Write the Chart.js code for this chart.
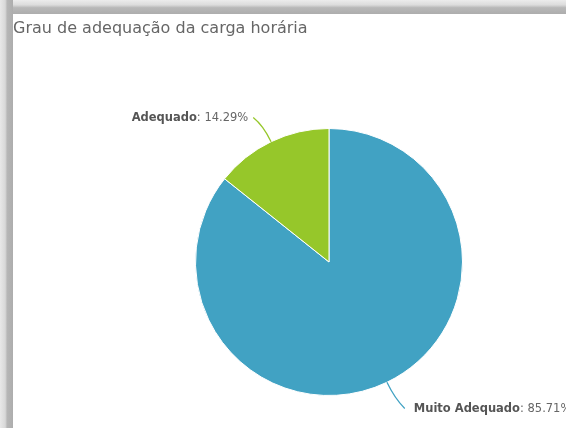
<!DOCTYPE html>
<html>
<head>
<meta charset="utf-8">
<script src="https://cdn.jsdelivr.net/npm/chart.js@4/dist/chart.umd.min.js"></script>
<style>
  body { margin: 0; background: #fff; }
  #wrap { position: relative; width: 566px; height: 428px; overflow: hidden; }
  #chart { position: absolute; left: 0; top: 0; }
  .bar-top { position: absolute; left: 0; top: 0; width: 566px; height: 14px;
    background: linear-gradient(to bottom, #ececec 0%, #dcdcdc 35%, #b8b8b8 55%, #adadad 100%); }
  .bar-left { position: absolute; left: 0; top: 0; width: 13px; height: 428px;
    background: linear-gradient(to right, #e8e8e8 0%, #d8d8d8 40%, #b6b6b6 55%, #adadad 100%); }
  #title { position: absolute; left: 13px; top: 18px; font-family: "DejaVu Sans", Verdana, sans-serif;
    font-size: 16px; color: #666; white-space: nowrap; }
</style>
</head>
<body>
<div id="wrap">
  <canvas id="chart" width="566" height="428"></canvas>
  <div class="bar-top"></div>
  <div class="bar-left"></div>
  <div id="title">Grau de adequação da carga horária</div>
</div>
<script>
const categories = ['Muito Adequado', 'Adequado'];
const percentages = [85.71, 14.29];
const sliceColors = ['#41a2c3', '#96c72a'];

// labels with connector lines, Highcharts style
const pieLabels = {
    id: 'pieLabels',
    afterDatasetsDraw(chart) {
        const ctx = chart.ctx;
        const meta = chart.getDatasetMeta(0);
        meta.data.forEach((arc, i) => {
            const mid = (arc.startAngle + arc.endAngle) / 2;
            const cos = Math.cos(mid), sin = Math.sin(mid);
            const r = arc.outerRadius;
            const ex = arc.x + cos * r, ey = arc.y + sin * r;
            const px = arc.x + cos * (r + 18), py = arc.y + sin * (r + 18);
            const right = cos >= 0;
            const ax = px + (right ? 10 : -10);
            const ay = py + (sin >= 0 ? 10 : -8);

            ctx.save();
            ctx.strokeStyle = sliceColors[i];
            ctx.lineWidth = 1.3;
            ctx.beginPath();
            ctx.moveTo(ex, ey);
            ctx.quadraticCurveTo(px, py, ax, ay);
            ctx.stroke();

            const name = categories[i];
            const rest = ': ' + percentages[i].toFixed(2) + '%';
            const bold = 'bold 11.5px "DejaVu Sans", Verdana, sans-serif';
            const normal = '11.5px "DejaVu Sans", Verdana, sans-serif';
            ctx.textBaseline = 'middle';
            ctx.font = bold;
            const wName = ctx.measureText(name).width;
            ctx.font = normal;
            const wRest = ctx.measureText(rest).width;
            const ty = ay + 1;
            const tx = right ? ax + 9 : ax - 5 - wName - wRest;
            ctx.font = bold;
            ctx.fillStyle = '#555';
            ctx.fillText(name, tx, ty);
            ctx.font = normal;
            ctx.fillStyle = '#666';
            ctx.fillText(rest, tx + wName, ty);
            ctx.restore();
        });
    }
};

new Chart(document.getElementById('chart'), {
    type: 'pie',
    data: {
        labels: categories,
        datasets: [{
            data: percentages,
            backgroundColor: sliceColors,
            borderColor: '#ffffff',
            borderWidth: 1
        }]
    },
    options: {
        responsive: false,
        animation: false,
        layout: { padding: { left: 195, right: 103, top: 128, bottom: 32 } },
        plugins: {
            legend: { display: false },
            tooltip: { enabled: false }
        }
    },
    plugins: [pieLabels]
});
</script>
</body>
</html>
